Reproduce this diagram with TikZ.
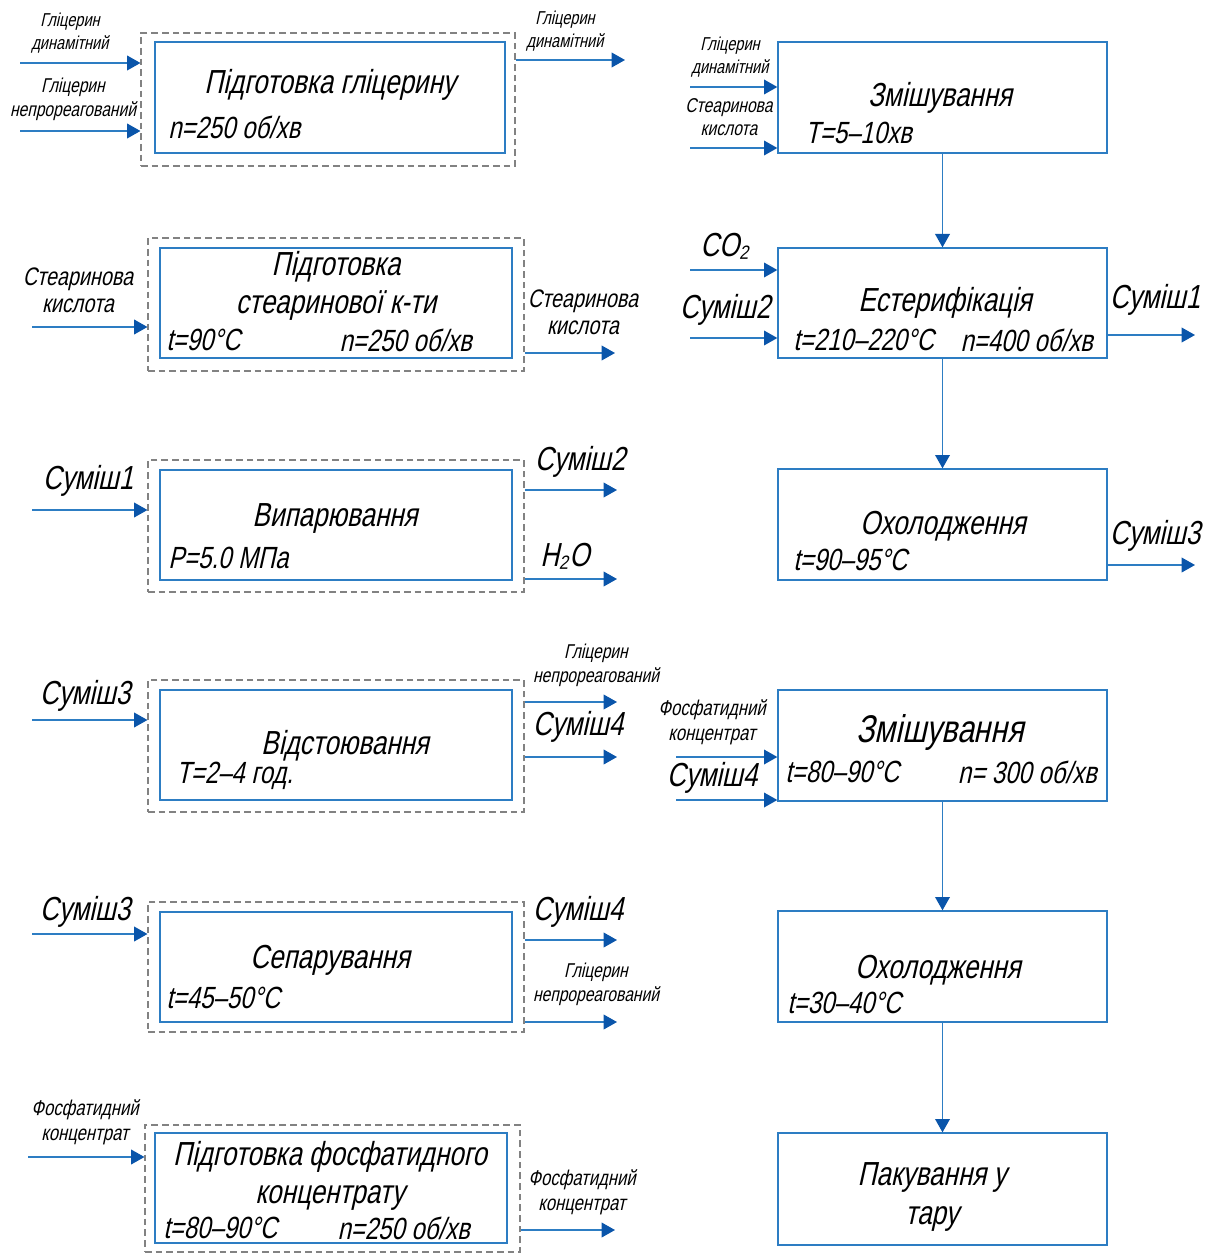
\documentclass[tikz,border=0pt]{standalone}
\usepackage{fontspec}
\setmainfont{Liberation Sans}[FakeStretch=0.78,FakeSlant=0.22]
\usetikzlibrary{arrows.meta,fit}
\definecolor{lineblue}{RGB}{45,125,195}
\definecolor{arrblue}{RGB}{10,85,170}
\definecolor{dashgray}{RGB}{130,130,130}
\newcommand\sz[2]{\fontsize{#1}{#2}\selectfont}
\tikzset{
  obox/.style={draw=dashgray,dash pattern=on 5pt off 3pt,line width=0.8pt,inner sep=0pt},
  ibox/.style={draw=lineblue,line width=1pt,inner sep=0pt},
  flow/.style={draw=lineblue,line width=1.1pt,-{Triangle[length=10pt,width=11pt,color=arrblue]}},
  txt/.style={inner sep=0pt,align=center},
  ttl/.style={txt,font=\sz{25}{28}},
  prm/.style={txt,font=\sz{23}{28}},
  big/.style={txt,font=\sz{25}{28}},
  mid/.style={txt,font=\sz{19}{20}},
  sml/.style={txt,font=\sz{14}{17}},
}
\begin{document}
\begin{tikzpicture}[x=0.75pt,y=-0.75pt]
\useasboundingbox (0,0) rectangle (1216,1255);

% ---------- Box 1 ----------
\node[obox,fit={(141,33)(515,166)}] (o1) {};
\node[ibox,fit={(155,42)(505,153)}] (b1) {};
\node[ttl] (t1) at (330,85) {Підготовка гліцерину};
\node[prm,anchor=west] (p1) at (168,127) {n=250 об/хв};
\coordinate (i1a) at (20,63);
\coordinate (i1b) at (20,131);
\draw[flow] (i1a) -- (o1.west |- i1a);
\draw[flow] (i1b) -- (o1.west |- i1b);
\node[sml] (l1a) at (70,33) {Гліцерин\\динамітний};
\node[sml,font=\sz{15}{18}] (l1b) at (73,99) {Гліцерин\\непрореагований};
\coordinate (q1) at (625,60);
\draw[flow] (o1.east |- q1) -- (q1);
\node[sml] (l1c) at (565,31) {Гліцерин\\динамітний};

% ---------- Box 2 ----------
\node[obox,fit={(148,238)(524,371)}] (o2) {};
\node[ibox,fit={(160,248)(512,358)}] (b2) {};
\node[ttl] (t2) at (336,286) {Підготовка\\стеаринової к-ти};
\node[prm,anchor=west] (p2a) at (166,340) {t=90°C};
\node[prm,anchor=east] (p2b) at (472,340) {n=250 об/хв};
\coordinate (i2) at (32,327);
\draw[flow] (i2) -- (o2.west |- i2);
\node[mid] (l2a) at (78,290) {Стеаринова\\кислота};
\coordinate (q2) at (615,353);
\draw[flow] (o2.east |- q2) -- (q2);
\node[mid] (l2b) at (583,312) {Стеаринова\\кислота};

% ---------- Box 3 ----------
\node[obox,fit={(148,460)(524,592)}] (o3) {};
\node[ibox,fit={(160,470)(512,580)}] (b3) {};
\node[ttl] (t3) at (335,518) {Випарювання};
\node[prm,anchor=west] (p3) at (168,558) {P=5.0 МПа};
\coordinate (i3) at (32,510);
\draw[flow] (i3) -- (o3.west |- i3);
\node[big] (l3a) at (88,481) {Суміш1};
\coordinate (q3a) at (617,490);
\coordinate (q3b) at (617,579);
\draw[flow] (o3.east |- q3a) -- (q3a);
\draw[flow] (o3.east |- q3b) -- (q3b);
\node[big] (l3b) at (580,462) {Суміш2};
\node[big] (l3c) at (565,556) {H₂O};

% ---------- Box 4 ----------
\node[obox,fit={(148,680)(524,812)}] (o4) {};
\node[ibox,fit={(160,690)(512,800)}] (b4) {};
\node[ttl] (t4) at (345,746) {Відстоювання};
\node[prm,anchor=west] (p4) at (176,776) {T=2–4 год.};
\coordinate (i4) at (32,720);
\draw[flow] (i4) -- (o4.west |- i4);
\node[big] (l4a) at (85,696) {Суміш3};
\coordinate (q4a) at (617,702);
\coordinate (q4b) at (617,757);
\draw[flow] (o4.east |- q4a) -- (q4a);
\draw[flow] (o4.east |- q4b) -- (q4b);
\node[sml,font=\sz{15}{18}] (l4b) at (596,665) {Гліцерин\\непрореагований};
\node[big] (l4c) at (578,727) {Суміш4};

% ---------- Box 5 ----------
\node[obox,fit={(148,902)(524,1032)}] (o5) {};
\node[ibox,fit={(160,912)(512,1022)}] (b5) {};
\node[ttl] (t5) at (330,960) {Сепарування};
\node[prm,anchor=west] (p5) at (166,998) {t=45–50°C};
\coordinate (i5) at (32,934);
\draw[flow] (i5) -- (o5.west |- i5);
\node[big] (l5a) at (85,912) {Суміш3};
\coordinate (q5a) at (617,940);
\coordinate (q5b) at (617,1022);
\draw[flow] (o5.east |- q5a) -- (q5a);
\draw[flow] (o5.east |- q5b) -- (q5b);
\node[big] (l5b) at (578,912) {Суміш4};
\node[sml,font=\sz{15}{18}] (l5c) at (596,984) {Гліцерин\\непрореагований};

% ---------- Box 6 ----------
\node[obox,fit={(145,1125)(520,1252)}] (o6) {};
\node[ibox,fit={(155,1133)(507,1243)}] (b6) {};
\node[ttl] (t6) at (330,1176) {Підготовка фосфатидного\\концентрату};
\node[prm,anchor=west] (p6a) at (163,1228) {t=80–90°C};
\node[prm,anchor=east] (p6b) at (470,1228) {n=250 об/хв};
\coordinate (i6) at (28,1157);
\draw[flow] (i6) -- (o6.west |- i6);
\node[sml,font=\sz{16}{19}] (l6a) at (85,1122) {Фосфатидний\\концентрат};
\coordinate (q6) at (615,1230);
\draw[flow] (o6.east |- q6) -- (q6);
\node[sml,font=\sz{16}{19}] (l6b) at (582,1192) {Фосфатидний\\концентрат};

% ---------- Right column ----------
\node[ibox,fit={(778,42)(1107,153)}] (r1) {};
\node[ttl] (rt1) at (940,98) {Змішування};
\node[prm,anchor=west] (rp1) at (805,133) {T=5–10хв};
\coordinate (ri1a) at (690,87);
\coordinate (ri1b) at (690,148);
\draw[flow] (ri1a) -- (r1.west |- ri1a);
\draw[flow] (ri1b) -- (r1.west |- ri1b);
\node[sml] (rl1a) at (730,57) {Гліцерин\\динамітний};
\node[sml,font=\sz{15}{17}] (rl1b) at (729,117) {Стеаринова\\кислота};

\node[ibox,fit={(778,248)(1107,358)}] (r2) {};
\node[ttl] (rt2) at (945,303) {Естерифікація};
\node[prm,anchor=west] (rp2a) at (793,340) {t=210–220°C};
\node[prm,anchor=east] (rp2b) at (1093,340) {n=400 об/хв};
\coordinate (ri2a) at (690,270);
\coordinate (ri2b) at (690,338);
\draw[flow] (ri2a) -- (r2.west |- ri2a);
\draw[flow] (ri2b) -- (r2.west |- ri2b);
\node[big] (rl2a) at (725,246) {CO₂};
\node[big] (rl2b) at (725,310) {Суміш2};
\coordinate (rq2) at (1195,335);
\draw[flow] (r2.east |- rq2) -- (rq2);
\node[big] (rl2c) at (1155,300) {Суміш1};

\node[ibox,fit={(778,469)(1107,580)}] (r3) {};
\node[ttl] (rt3) at (943,526) {Охолодження};
\node[prm,anchor=west] (rp3) at (793,560) {t=90–95°C};
\coordinate (rq3) at (1195,565);
\draw[flow] (r3.east |- rq3) -- (rq3);
\node[big] (rl3) at (1155,536) {Суміш3};

\node[ibox,fit={(778,690)(1107,801)}] (r4) {};
\node[txt,font=\sz{29}{32}] (rt4) at (940,732) {Змішування};
\node[prm,anchor=west] (rp4a) at (785,772) {t=80–90°C};
\node[prm,anchor=east] (rp4b) at (1097,772) {n= 300 об/хв};
\coordinate (ri4a) at (676,757);
\coordinate (ri4b) at (676,800);
\draw[flow] (ri4a) -- (r4.west |- ri4a);
\draw[flow] (ri4b) -- (r4.west |- ri4b);
\node[sml,font=\sz{16}{19}] (rl4a) at (712,722) {Фосфатидний\\концентрат};
\node[big] (rl4b) at (712,778) {Суміш4};

\node[ibox,fit={(778,911)(1107,1022)}] (r5) {};
\node[ttl] (rt5) at (938,970) {Охолодження};
\node[prm,anchor=west] (rp5) at (787,1003) {t=30–40°C};

\node[ibox,fit={(778,1133)(1107,1245)}] (r6) {};
\node[ttl,font=\sz{25}{29}] (rt6) at (932,1197) {Пакування у\\тару};

\draw[flow] (r1.south) -- (r2.north);
\draw[flow] (r2.south) -- (r3.north);
\draw[flow] (r4.south) -- (r5.north);
\draw[flow] (r5.south) -- (r6.north);
\end{tikzpicture}
\end{document}
